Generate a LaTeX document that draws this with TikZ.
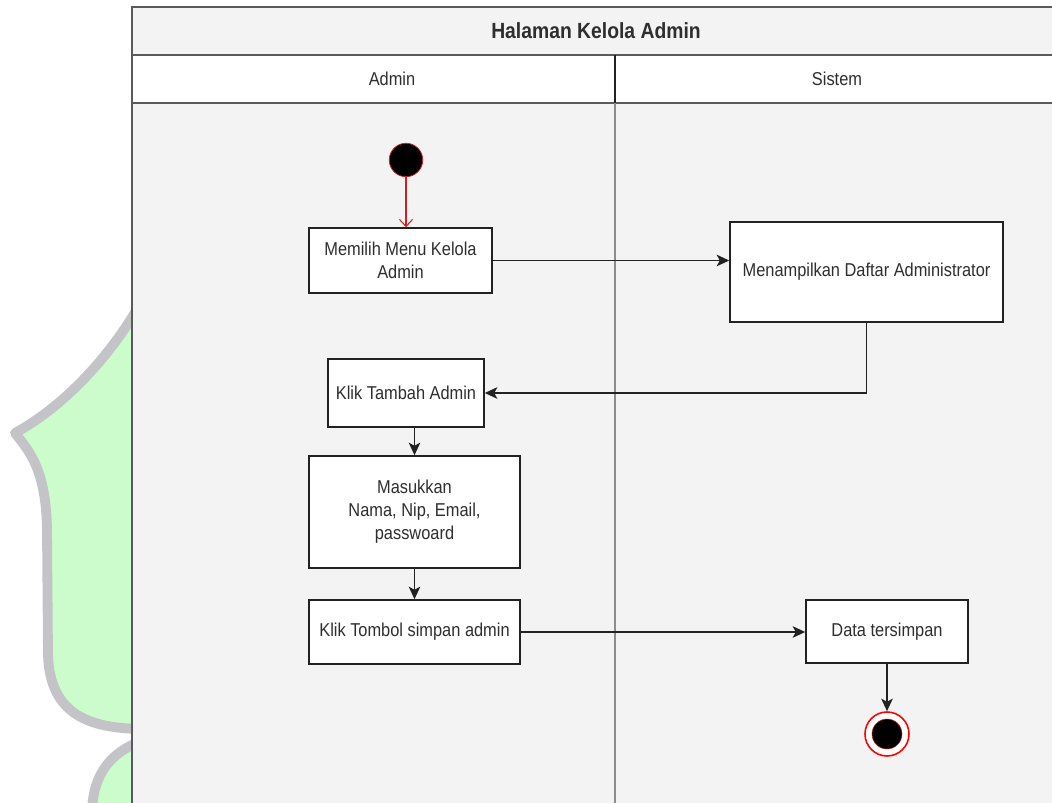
\documentclass[tikz,border=0pt]{standalone}
\usepackage{fontspec}
\setmainfont{Liberation Sans}[FakeStretch=0.88]
\usetikzlibrary{arrows.meta}

\definecolor{lanefill}{HTML}{F3F3F3}
\definecolor{frameline}{HTML}{5A5A5A}
\definecolor{laneline}{HTML}{8C8C8C}
\definecolor{boxline}{HTML}{222222}
\definecolor{txt}{HTML}{2E2E2E}
\definecolor{leafgreen}{HTML}{CCFCCC}
\definecolor{leafgray}{HTML}{C4C4C8}
\definecolor{startred}{HTML}{D02020}

\tikzset{
  actbox/.style={draw=boxline, fill=white, line width=0.9pt, inner sep=2pt,
    align=center, text=txt, font=\fontsize{10.6}{13}\selectfont},
  flow/.style={draw=boxline, line width=1pt,
    -{Stealth[length=0.25cm, width=0.23cm, inset=0.06cm]}},
  startflow/.style={draw=startred, line width=0.6pt,
    -{Straight Barb[length=0.14cm, width=0.26cm]}},
  initnode/.style={circle, fill=black, draw=startred, line width=0.4pt,
    minimum size=0.67cm, inner sep=0pt},
  finalring/.style={circle, fill=white, draw=red, line width=0.9pt,
    minimum size=0.88cm, inner sep=0pt},
  finaldot/.style={circle, fill=black, draw=startred, line width=0.3pt,
    minimum size=0.6cm, inner sep=0pt},
  leaf/.style={fill=leafgreen, draw=leafgray, line width=5.6pt, line join=round},
  headtext/.style={text=txt, font=\fontsize{10.6}{13}\selectfont},
}

\begin{document}
\begin{tikzpicture}[x=0.02cm, y=-0.02cm]
  % canvas
  \clip (0,0) rectangle (1052,803);
  \useasboundingbox (0,0) rectangle (1052,803);
  \fill[white] (0,0) rectangle (1052,803);

  % green leaf shapes in the left margin
  \path[leaf] (158,268) .. controls (128,338) and (72,402) .. (15,433)
    .. controls (30,452) and (46,470) .. (47,530)
    -- (48,655) .. controls (50,715) and (90,728) .. (140,729)
    -- (240,729) -- (240,268) -- cycle;
  \path[leaf] (150,738) .. controls (110,750) and (92,775) .. (92,815)
    -- (92,840) -- (240,840) -- (240,738) -- cycle;

  % swimlane frame
  \filldraw[fill=lanefill, draw=frameline, line width=0.75pt] (132,7) rectangle (1060,830);
  \filldraw[fill=lanefill, draw=frameline, line width=0.75pt] (132,7) rectangle (1060,55);
  \filldraw[fill=white, draw=frameline, line width=0.75pt] (132,55) rectangle (1060,103);
  \draw[boxline, line width=0.75pt] (615,55) -- (615,103);
  \draw[laneline, line width=0.85pt] (615,103) -- (615,830);

  \node[headtext, font=\fontsize{12.5}{15}\selectfont\bfseries] (title) at (596,31) {Halaman Kelola Admin};
  \node[headtext] (laneA) at (392,79) {Admin};
  \node[headtext] (laneS) at (837,79) {Sistem};

  % activities
  \node[initnode] (start) at (406,160) {};
  \node[actbox, minimum width=3.66cm, minimum height=1.30cm] (b1) at (400.5,260.5) {Memilih Menu Kelola\\Admin};
  \node[actbox, minimum width=5.46cm, minimum height=2.00cm] (b2) at (866.5,272) {Menampilkan Daftar Administrator};
  \node[actbox, minimum width=3.12cm, minimum height=1.36cm] (b3) at (406,393) {Klik Tambah Admin};
  \node[actbox, minimum width=4.22cm, minimum height=2.24cm] (b4) at (414.5,512) {Masukkan\\Nama, Nip, Email,\\passwoard};
  \node[actbox, minimum width=4.22cm, minimum height=1.28cm] (b5) at (414.5,632) {Klik Tombol simpan admin};
  \node[actbox, minimum width=3.24cm, minimum height=1.26cm] (b6) at (887,631.5) {Data tersimpan};
  \node[finalring] (endring) at (887,734) {};
  \node[finaldot] (enddot) at (887,734) {};

  % control flow
  \draw[startflow] (start.south) -- (start.south |- b1.north);
  \draw[flow] (b1.east) -- (b1.east -| b2.west);
  \draw[flow] (b2.south) |- (b3.east);
  \draw[flow] (b3.south -| b4.north) -- (b4.north);
  \draw[flow] (b4.south) -- (b5.north);
  \draw[flow] (b5.east) -- (b5.east -| b6.west);
  \draw[flow] (b6.south) -- (endring.north);
\end{tikzpicture}
\end{document}
